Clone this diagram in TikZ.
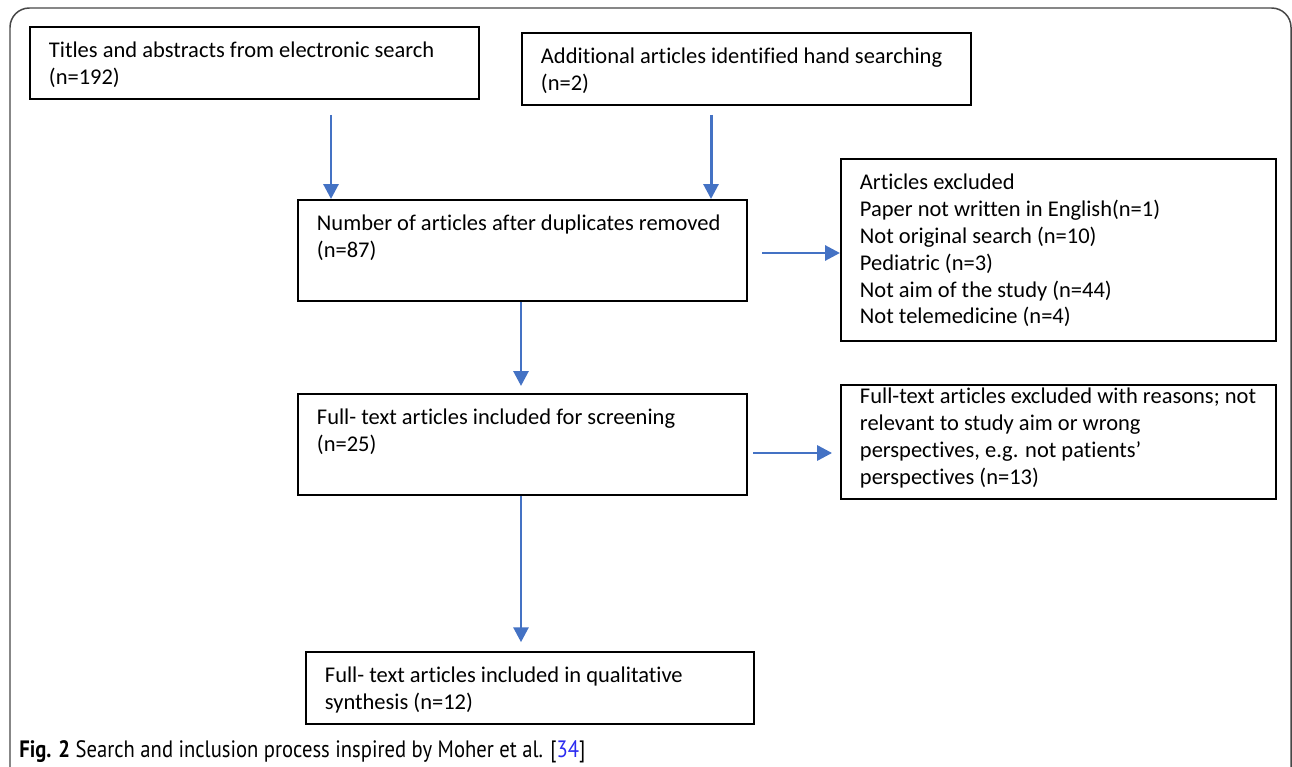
\documentclass[tikz,border=0pt]{standalone}
\usepackage{fontspec}
\setmainfont[Ligatures=NoCommon]{Carlito}
\newfontfamily\capfont[FakeStretch=0.87]{PT Sans}
\usepackage{xcolor}
\usetikzlibrary{arrows.meta,positioning}
\definecolor{flowblue}{HTML}{4472C4}
\definecolor{reflink}{HTML}{2B2BF0}
\newcommand{\boxtxt}[3]{\parbox[t][#2][t]{#1}{\raggedright #3}}

\begin{document}
\begin{tikzpicture}[x=.02cm,y=-.02cm,line cap=butt,line join=miter,
  box/.style={draw=black,line width=1.1pt,anchor=north west,inner xsep=.38cm,
    inner ysep=.30cm,font=\fontsize{12.8}{15.3}\selectfont},
  flow/.style={draw=flowblue,line width=1.7pt,
    -{Triangle[length=8.5pt,width=8.5pt]}},
  frame/.style={draw=black!72,line width=.85pt,rounded corners=11}]
\useasboundingbox (0,0) rectangle (1292,767);
% Outer frame, cut off at the bottom.
\draw[frame](10,800)--(10,8)--(1291,8)--(1291,800);

% Identification.
\node[box](titles) at (29,26)
  {\boxtxt{8.22cm}{.84cm}{Titles and abstracts from electronic search\\(n=192)}};
\node[box](hand) at (521,32)
  {\boxtxt{8.22cm}{.84cm}{Additional articles identified hand searching\\(n=2)}};

% Screening.
\node[box](dedup) at (297,199)
  {\boxtxt{8.22cm}{1.42cm}{Number of articles after duplicates removed\\(n=87)}};
\node[box](excl) at (840,158)
  {\boxtxt{7.94cm}{3.04cm}{Articles excluded\\Paper not written in English(n=1)\\
  Not original search (n=10)\\Pediatric (n=3)\\Not aim of the study (n=44)\\
  Not telemedicine (n=4)}};

% Eligibility.
\node[box](screen) at (297,393)
  {\boxtxt{8.22cm}{1.42cm}{Full- text articles included for screening\\(n=25)}};
\node[box,inner ysep=.06cm](ftexcl) at (840,384)
  {\boxtxt{7.94cm}{2.16cm}{Full-text articles excluded with reasons; not\\
  relevant to study aim or wrong\\perspectives, e.g. not patients'\\
  perspectives (n=13)}};

% Included.
\node[box](final) at (305,651)
  {\boxtxt{8.2cm}{.84cm}{Full- text articles included in qualitative\\synthesis (n=12)}};

% Connectors.
\coordinate (s1) at (331,115);
\coordinate (s2) at (711,115);
\coordinate (s3) at (762,253);
\coordinate (s4) at (753,453);
\coordinate (mid) at (521,0);
\draw[flow](s1)--(s1 |- dedup.north);
\draw[flow](s2)--(s2 |- dedup.north);
\draw[flow](s3)--(s3 -| excl.west);
\draw[flow,shorten >=4pt](mid |- dedup.south)--(mid |- screen.north);
\draw[flow,shorten >=4.5pt](s4)--(s4 -| ftexcl.west);
\draw[flow,shorten >=5pt](mid |- screen.south)--(mid |- final.north);

% Caption.
\node[anchor=base west,inner sep=0pt,font=\capfont\fontsize{13.5}{15}\selectfont](cap)
  at (19,757) {{\bfseries Fig. 2} Search and inclusion process inspired by Moher et al.
  [\textcolor{reflink}{34}]};
\end{tikzpicture}
\end{document}
